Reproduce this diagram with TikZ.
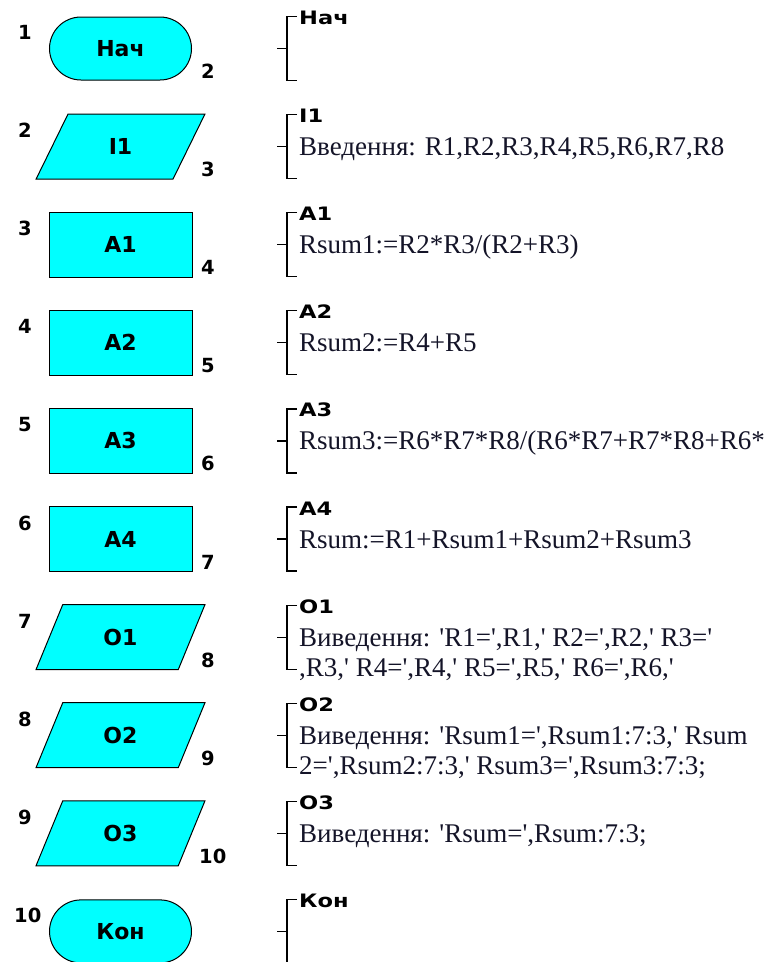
\documentclass[tikz,border=0pt]{standalone}
\usepackage{fontspec}
\usepackage{tikz}
\usetikzlibrary{positioning,shapes.geometric}
\newfontfamily\lblfont{DejaVu Sans}
\newfontfamily\ttlfont{DejaVu Sans}[FakeStretch=1.22]
\newfontfamily\txtfont{Liberation Serif}[Ligatures=TeXOff]
\definecolor{bsCyan}{RGB}{0,255,255}
\definecolor{bsInk}{RGB}{20,20,40}

\begin{document}
\begin{tikzpicture}[x=1pt, y=-1pt,
  termbox/.style={draw=black, line width=1pt, fill=bsCyan,
                  rounded corners=31.5pt, minimum width=142pt, minimum height=63pt,
                  font=\lblfont\bfseries\fontsize{22}{24}\selectfont},
  iobox/.style={draw=black, line width=1pt, fill=bsCyan, trapezium,
                trapezium left angle=68, trapezium right angle=112,
                trapezium stretches=true, minimum width=169pt, minimum height=65pt,
                font=\lblfont\bfseries\fontsize{22}{24}\selectfont},
  procbox/.style={draw=black, line width=1pt, fill=bsCyan,
                  minimum width=143pt, minimum height=65pt,
                  font=\lblfont\bfseries\fontsize{22}{24}\selectfont},
  numlbl/.style={anchor=west, inner sep=0pt,
                 font=\lblfont\bfseries\fontsize{19.5}{21}\selectfont},
  titlelbl/.style={anchor=west, inner sep=0pt, text height=13pt, text depth=0pt,
                   font=\ttlfont\bfseries\fontsize{18.5}{20}\selectfont},
  codelbl/.style={anchor=west, inner sep=0pt, text height=18pt, text depth=0pt,
                  text=bsInk, font=\txtfont\fontsize{27}{31}\selectfont},
  brk/.style={draw=black, line width=1.2pt}
]
\clip (0,0) rectangle (777,962);
\fill[white] (0,0) rectangle (777,962);
%% Flowchart column
\node[termbox] (s1)  at (120.5,48.5)  {Нач};
\node[iobox]   (s2)  at (120.5,146.6) {I1};
\node[procbox] (s3)  at (120.5,244.7) {A1};
\node[procbox] (s4)  at (120.5,342.8) {A2};
\node[procbox] (s5)  at (120.5,440.9) {A3};
\node[procbox] (s6)  at (120.5,539)   {A4};
\node[iobox]   (s7)  at (120.5,637.1) {O1};
\node[iobox]   (s8)  at (120.5,735.2) {O2};
\node[iobox]   (s9)  at (120.5,833.3) {O3};
\node[termbox] (s10) at (120.5,931.4) {Кон};
%% Entry numbers
\node[numlbl] (in1)  at (18,32.5)  {1};
\node[numlbl] (in2)  at (18,130.6) {2};
\node[numlbl] (in3)  at (18,228.7) {3};
\node[numlbl] (in4)  at (18,326.8) {4};
\node[numlbl] (in5)  at (18,424.9) {5};
\node[numlbl] (in6)  at (18,523)   {6};
\node[numlbl] (in7)  at (18,621.1) {7};
\node[numlbl] (in8)  at (18,719.2) {8};
\node[numlbl] (in9)  at (18,817.3) {9};
\node[numlbl] (in10) at (14,915.4) {10};
%% Exit numbers
\node[numlbl] (out1) at (201,71.5)  {2};
\node[numlbl] (out2) at (201,169.6) {3};
\node[numlbl] (out3) at (201,267.7) {4};
\node[numlbl] (out4) at (201,365.8) {5};
\node[numlbl] (out5) at (201,463.9) {6};
\node[numlbl] (out6) at (201,562)   {7};
\node[numlbl] (out7) at (201,660.1) {8};
\node[numlbl] (out8) at (201,758.2) {9};
\node[numlbl] (out9) at (199,856.3) {10};
%% Brackets
\draw[brk] (297,16.5)  -- (287,16.5)  -- (287,80.5)  -- (297,80.5)  (287,48.5)  -- (277,48.5);
\draw[brk] (297,114.6) -- (287,114.6) -- (287,178.6) -- (297,178.6) (287,146.6) -- (277,146.6);
\draw[brk] (297,212.7) -- (287,212.7) -- (287,276.7) -- (297,276.7) (287,244.7) -- (277,244.7);
\draw[brk] (297,310.8) -- (287,310.8) -- (287,374.8) -- (297,374.8) (287,342.8) -- (277,342.8);
\draw[brk] (297,408.9) -- (287,408.9) -- (287,472.9) -- (297,472.9) (287,440.9) -- (277,440.9);
\draw[brk] (297,507)   -- (287,507)   -- (287,571)   -- (297,571)   (287,539)   -- (277,539);
\draw[brk] (297,605.1) -- (287,605.1) -- (287,669.1) -- (297,669.1) (287,637.1) -- (277,637.1);
\draw[brk] (297,703.2) -- (287,703.2) -- (287,767.2) -- (297,767.2) (287,735.2) -- (277,735.2);
\draw[brk] (297,801.3) -- (287,801.3) -- (287,865.3) -- (297,865.3) (287,833.3) -- (277,833.3);
\draw[brk] (297,899.4) -- (287,899.4) -- (287,963.4) -- (297,963.4) (287,931.4) -- (277,931.4);
%% Block titles
\node[titlelbl] (t1)  at (299,18)    {Нач};
\node[titlelbl] (t2)  at (299,116.1) {I1};
\node[titlelbl] (t3)  at (299,214.2) {A1};
\node[titlelbl] (t4)  at (299,312.3) {A2};
\node[titlelbl] (t5)  at (299,410.4) {A3};
\node[titlelbl] (t6)  at (299,508.5) {A4};
\node[titlelbl] (t7)  at (299,606.6) {O1};
\node[titlelbl] (t8)  at (299,704.7) {O2};
\node[titlelbl] (t9)  at (299,802.8) {O3};
\node[titlelbl] (t10) at (299,900.9) {Кон};
%% Block contents
\node[codelbl] (c2)  at (299,146.6) {Введення: R1,R2,R3,R4,R5,R6,R7,R8};
\node[codelbl] (c3)  at (299,244.7) {Rsum1:=R2*R3/(R2+R3)};
\node[codelbl] (c4)  at (299,342.8) {Rsum2:=R4+R5};
\node[codelbl] (c5)  at (299,440.9) {Rsum3:=R6*R7*R8/(R6*R7+R7*R8+R6*};
\node[codelbl] (c6)  at (299,539)   {Rsum:=R1+Rsum1+Rsum2+Rsum3};
\node[codelbl] (c7)  at (299,637.1) {Виведення: 'R1=',R1,' R2=',R2,' R3='};
\node[codelbl] (c7b) at (299,667.1) {,R3,' R4=',R4,' R5=',R5,' R6=',R6,'};
\node[codelbl] (c8)  at (299,735.2) {Виведення: 'Rsum1=',Rsum1:7:3,' Rsum};
\node[codelbl] (c8b) at (299,765.2) {2=',Rsum2:7:3,' Rsum3=',Rsum3:7:3;};
\node[codelbl] (c9)  at (299,833.3) {Виведення: 'Rsum=',Rsum:7:3;};
\end{tikzpicture}
\end{document}
